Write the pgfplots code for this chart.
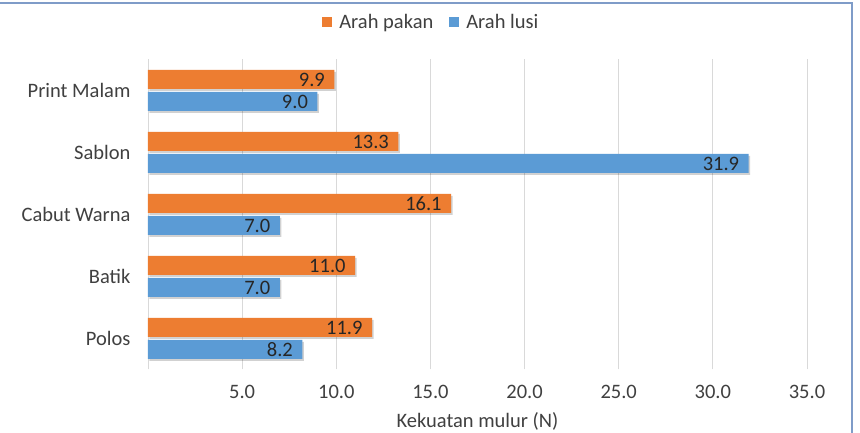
\documentclass[border=0pt]{standalone}
\usepackage{fontspec}
\setmainfont{Carlito}
\usepackage{pgfplots}
\pgfplotsset{compat=1.18}
\definecolor{pakan}{HTML}{ED7D31}
\definecolor{lusi}{HTML}{5B9BD5}
\definecolor{gridc}{HTML}{D9D9D9}
\definecolor{txt}{HTML}{404040}
\definecolor{framec}{HTML}{7F9CC8}
\newcommand{\cf}{\fontsize{20.5}{24}\selectfont}
\begin{document}
\begin{tikzpicture}
\useasboundingbox (-148pt,-63.5pt) rectangle (712pt,369.5pt);
\fill[white] (-148pt,-63.5pt) rectangle (712pt,369.5pt);
\begin{axis}[
  at={(0pt,0pt)}, anchor=south west,
  scale only axis, width=659pt, height=310pt,
  xmin=0, xmax=35, ymin=-0.5, ymax=4.5,
  xbar, bar width=19pt,
  xtick={0,5,...,35},
  xticklabels={,5.0,10.0,15.0,20.0,25.0,30.0,35.0},
  ytick={0,1,2,3,4},
  yticklabels={Polos,Batik,Cabut Warna,Sablon,Print Malam},
  xmajorgrids, grid style={gridc, line width=0.8pt},
  axis line style={draw=none},
  major tick length=0pt,
  tick label style={font=\cf, text=txt},
  yticklabel style={xshift=-14pt},
  xticklabel style={yshift=-12pt},
  xlabel={Kekuatan mulur (N)},
  xlabel style={font=\cf, text=txt, at={(axis description cs:0.5,0)}, anchor=center, yshift=-52pt},
  legend style={at={(axis description cs:0.43,1)}, anchor=center, yshift=37pt, draw=none, fill=none,
    legend columns=2, font=\cf, text=txt,
    /tikz/every even column/.append style={column sep=14pt}},
  legend image code/.code={\fill[#1] (0pt,-5pt) rectangle (10pt,5pt); \path (15pt,0pt);},
  /pgf/number format/assume math mode=true,
  point meta=x,
  nodes near coords={\pgfmathprintnumber[fixed,fixed zerofill,precision=1]{\pgfplotspointmeta}},
  every node near coord/.append style={anchor=east, font=\cf, text=black!85, xshift=-6pt},
]
\addlegendimage{fill=pakan, draw=none}
\addlegendimage{fill=lusi, draw=none}
\addplot[forget plot, fill=pakan, draw=none, bar shift=11pt,
  preaction={fill=black, opacity=0.18, transform canvas={xshift=1.5pt,yshift=-2pt}}]
  coordinates {(11.9,0) (11.0,1) (16.1,2) (13.3,3) (9.9,4)};
\addplot[forget plot, fill=lusi, draw=none, bar shift=-11pt,
  preaction={fill=black, opacity=0.18, transform canvas={xshift=1.5pt,yshift=-2pt}}]
  coordinates {(8.2,0) (7.0,1) (7.0,2) (31.9,3) (9.0,4)};
\legend{Arah pakan, Arah lusi}
\end{axis}
\draw[framec, line width=1.5pt] (-148pt,366.5pt) -- (704pt,366.5pt) -- (704pt,-63.5pt);
\end{tikzpicture}
\end{document}
